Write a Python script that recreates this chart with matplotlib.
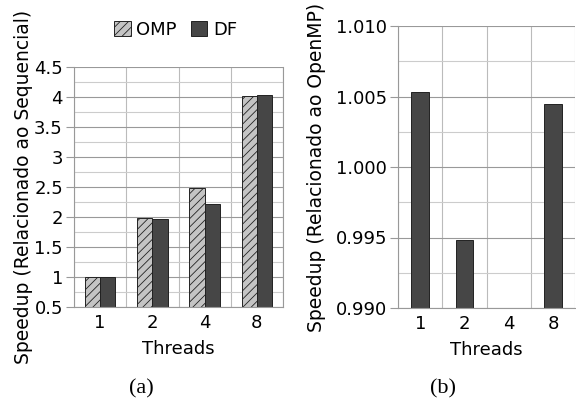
import numpy as np
import matplotlib
matplotlib.use('Agg')
from matplotlib import pyplot as plt
from matplotlib.ticker import MultipleLocator, FormatStrFormatter

threads = ['1', '2', '4', '8']
omp = [1.00, 1.99, 2.48, 4.01]
df = [1.00, 1.97, 2.21, 4.03]
df_vs_omp = [1.00532, 0.99479, 0.989, 1.00450]
left_ticks = ['0.5', '1', '1.5', '2', '2.5', '3', '3.5', '4', '4.5']

plt.rcParams['font.family'] = 'DejaVu Sans'
plt.rcParams['hatch.color'] = '#333333'
plt.rcParams['hatch.linewidth'] = 0.6

fig = plt.figure(figsize=(5.76, 4.0), dpi=100)
ax1 = fig.add_axes([0.1285, 0.2325, 0.3628, 0.60])
ax2 = fig.add_axes([0.691, 0.23, 0.308, 0.705])

x = np.arange(len(threads))
w = 0.29


def style(ax):
    ax.grid(True, which='major', axis='y', color='#999999', lw=0.8)
    ax.grid(True, which='minor', axis='y', color='#cccccc', lw=0.8)
    ax.set_axisbelow(True)
    for xb in np.arange(-0.5, len(threads), 1.0):
        ax.axvline(xb, color='#bbbbbb', lw=0.8, zorder=0)
    for s in ax.spines.values():
        s.set_color('#999999')
        s.set_linewidth(0.8)
    ax.spines['top'].set_visible(False)
    ax.set_xlim(-0.5, len(threads) - 0.5)
    ax.set_xticks(x)
    ax.set_xticklabels(threads)
    ax.tick_params(axis='x', length=0, labelsize=13, pad=5)
    ax.tick_params(axis='y', which='major', length=6, color='#999999', labelsize=13, pad=2)
    ax.tick_params(axis='y', which='minor', length=0)
    ax.set_xlabel('Threads', fontsize=13, labelpad=6)


b1 = ax1.bar(x - w / 2, omp, w, color='#c4c4c4', edgecolor='#222222', lw=0.7, hatch='////', label='OMP')
b2 = ax1.bar(x + w / 2, df, w, color='#464646', edgecolor='#222222', lw=0.7, label='DF')
ax1.set_ylim(0.5, 4.5)
ax1.set_yticks(np.arange(0.5, 4.51, 0.5))
ax1.set_yticklabels(left_ticks)
ax1.yaxis.set_minor_locator(MultipleLocator(0.25))
style(ax1)
ax1.set_ylabel('Speedup (Relacionado ao Sequencial)', fontsize=13.5, labelpad=1)

ax2.bar(x, df_vs_omp, 0.4, color='#464646', edgecolor='#222222', lw=0.7)
ax2.set_ylim(0.990, 1.010)
ax2.yaxis.set_major_locator(MultipleLocator(0.005))
ax2.yaxis.set_minor_locator(MultipleLocator(0.0025))
ax2.yaxis.set_major_formatter(FormatStrFormatter('%.3f'))
style(ax2)
ax2.spines['right'].set_visible(False)
ax2.set_ylabel('Speedup (Relacionado ao OpenMP)', fontsize=13.5, labelpad=7)

fig.legend(handles=[b1, b2], loc='center', bbox_to_anchor=(0.305, 0.925), ncol=2,
           frameon=False, fontsize=13, handlelength=0.9, handleheight=0.9,
           handletextpad=0.3, columnspacing=0.8)

fig.text(0.245, 0.028, '(a)', family='Liberation Serif', fontsize=16, ha='center', va='center')
fig.text(0.769, 0.028, '(b)', family='Liberation Serif', fontsize=16, ha='center', va='center')

fig.savefig('out.png', dpi=100)
